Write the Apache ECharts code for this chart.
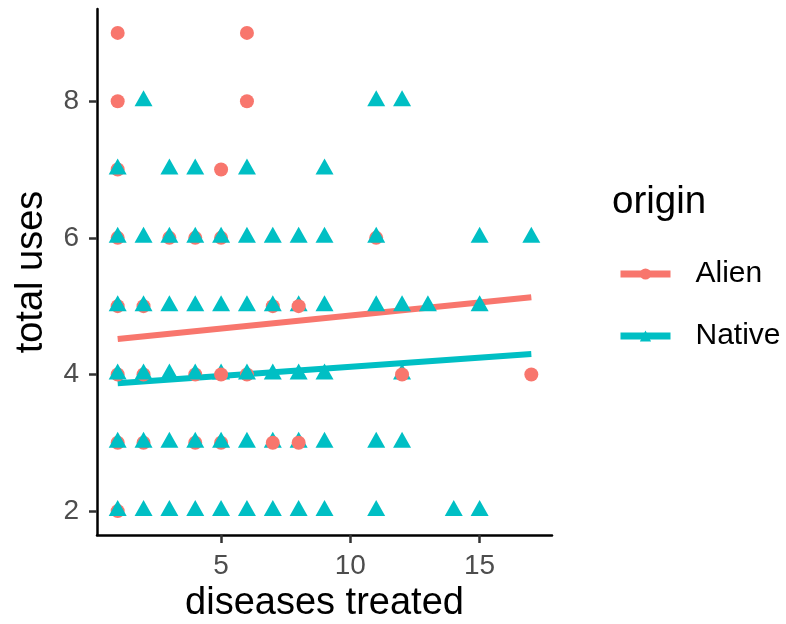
<!DOCTYPE html>
<html>
<head>
<meta charset="utf-8">
<script src="https://cdn.jsdelivr.net/npm/echarts@6/dist/echarts.min.js"></script>
<style>html,body{margin:0;padding:0;background:#fff}#c{width:786px;height:624px}</style>
</head>
<body>
<div id="c"></div>
<script>
// Alien points drawn beneath native points
const alienX = [1,6, 1,6, 1,5, 1,3,4,5,11, 1,2,7, 1,2,4,6,17, 1,2,4,5, 1];
const alienY = [9,9, 8,8, 7,7, 6,6,6,6,6,  5,5,5, 4,4,4,4,4,  3,3,3,3, 2];
// Alien points drawn on top of native points
const alienTopX = [8, 5,12, 7,8];
const alienTopY = [5, 4,4,  3,3];
// Native points
const nativeX = [2,11,12, 1,3,4,6,9, 1,2,3,4,5,6,7,8,9,11,15,17, 1,2,3,4,5,6,7,8,9,11,12,13,15, 1,2,3,4,5,6,7,8,9,12, 1,2,3,4,5,6,7,8,9,11,12, 1,2,3,4,5,6,7,8,9,11,14,15];
const nativeY = [8,8,8, 7,7,7,7,7, 6,6,6,6,6,6,6,6,6,6,6,6, 5,5,5,5,5,5,5,5,5,5,5,5,5, 4,4,4,4,4,4,4,4,4,4, 3,3,3,3,3,3,3,3,3,3,3, 2,2,2,2,2,2,2,2,2,2,2,2];
// Fitted lines
const fitX = [1, 17];
const alienFitY = [4.52, 5.13];
const nativeFitY = [3.87, 4.30];
const xTicks = [5, 10, 15];
const yTicks = [2, 4, 6, 8];

const RED = '#F8766D', CYAN = '#00BFC4';
const FONT = 'Liberation Sans, Arial, sans-serif';
const zip = (a, b) => a.map((v, i) => [v, b[i]]);

const chart = echarts.init(document.getElementById('c'));
const axisCommon = {
  axisLine: {show: true, lineStyle: {color: '#000', width: 2.5}},
  splitLine: {show: false},
  nameTextStyle: {color: '#000', fontSize: 38, fontFamily: FONT}
};
chart.setOption({
  animation: false,
  backgroundColor: '#fff',
  grid: {left: 97, right: 234, top: 9, bottom: 89, containLabel: false, outerBoundsMode: 'none'},
  xAxis: Object.assign({}, axisCommon, {
    type: 'value', min: 0.2, max: 17.8,
    name: 'diseases treated', nameLocation: 'middle', nameGap: 48,
    axisTick: {show: true, length: 8, customValues: xTicks, lineStyle: {color: '#333', width: 2.5}},
    axisLabel: {customValues: xTicks, color: '#4d4d4d', fontSize: 28, margin: 17, fontFamily: FONT}
  }),
  yAxis: Object.assign({}, axisCommon, {
    type: 'value', min: 1.65, max: 9.35,
    name: 'total uses', nameLocation: 'middle', nameGap: 46, nameRotate: 90,
    axisTick: {show: true, length: 8, customValues: yTicks, lineStyle: {color: '#333', width: 2.5}},
    axisLabel: {customValues: yTicks, color: '#4d4d4d', fontSize: 28, margin: 18, fontFamily: FONT}
  }),
  legend: {
    orient: 'vertical', left: 612, top: 253, itemGap: 30,
    itemWidth: 50, itemHeight: 14,
    lineStyle: {width: 7},
    data: ['Alien', 'Native'],
    textStyle: {color: '#000', fontSize: 30, lineHeight: 32, padding: [0, 0, 0, 20], fontFamily: FONT}
  },
  graphic: [{
    type: 'text', left: 612, top: 183,
    style: {text: 'origin', fontSize: 38.5, fill: '#000', fontFamily: FONT}
  }],
  series: [
    {name: 'Alien', type: 'line', data: zip(fitX, alienFitY), symbol: 'circle', symbolSize: 12, showSymbol: false,
     lineStyle: {color: RED, width: 6}, itemStyle: {color: RED}, z: 1},
    {name: 'Native', type: 'line', data: zip(fitX, nativeFitY), symbol: 'triangle', symbolSize: 14, showSymbol: false,
     lineStyle: {color: CYAN, width: 6}, itemStyle: {color: CYAN}, z: 1},
    {name: 'Alien', type: 'scatter', data: zip(alienX, alienY), symbol: 'circle', symbolSize: 14,
     itemStyle: {color: RED, opacity: 1}, z: 2},
    {name: 'Native', type: 'scatter', data: zip(nativeX, nativeY), symbol: 'triangle', symbolSize: [18, 16],
     symbolOffset: [0, -3], itemStyle: {color: CYAN, opacity: 1}, z: 3},
    {name: 'Alien', type: 'scatter', data: zip(alienTopX, alienTopY), symbol: 'circle', symbolSize: 14,
     itemStyle: {color: RED, opacity: 1}, z: 4}
  ]
});
</script>
</body>
</html>
